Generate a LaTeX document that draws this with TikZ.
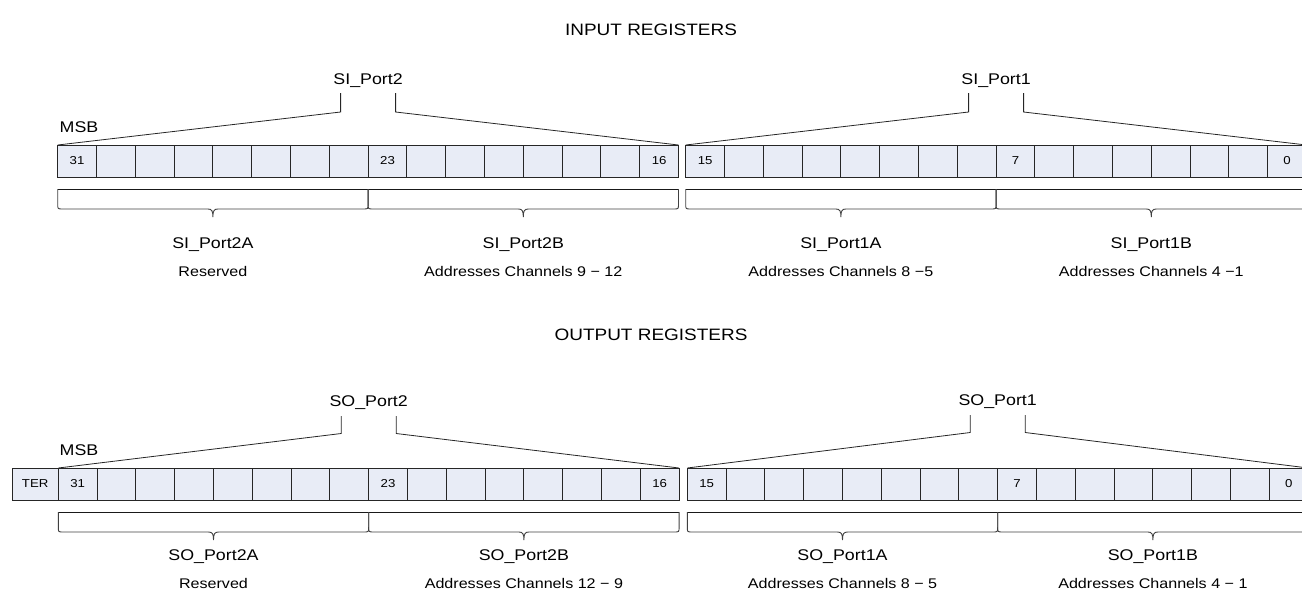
\documentclass[tikz,border=0pt]{standalone}
\usepackage{fontspec}
\setmainfont{Liberation Sans}[FakeStretch=1.15]
\usetikzlibrary{calc}
\definecolor{cellfill}{RGB}{232,236,246}
\newcommand\regbrace[3]{%
  \pgfmathsetmacro\bxm{(#1+#2)/2}%
  \pgfmathsetmacro\bb{#3+20}%
  \draw[brc] (#1,#3) -- (#1,\bb-5) .. controls (#1,\bb) .. (#1+5,\bb)
    -- (\bxm-5,\bb) .. controls (\bxm-1,\bb) and (\bxm,\bb+2) .. (\bxm,\bb+8)
    .. controls (\bxm,\bb+2) and (\bxm+1,\bb) .. (\bxm+5,\bb)
    -- (#2-5,\bb) .. controls (#2,\bb) .. (#2,\bb-5) -- (#2,#3);%
}
\tikzset{
  cell/.style={draw=black!85, fill=cellfill, line width=0.9pt, minimum width=38.8pt,
    minimum height=32pt, inner sep=0pt, outer sep=0pt},
  celltxt/.style={font=\fontsize{11.5}{13}\selectfont, inner sep=0pt},
  lbl/.style={font=\fontsize{15.5}{18}\selectfont, inner sep=0pt},
  sub/.style={font=\fontsize{14}{16}\selectfont, inner sep=0pt},
  ttl/.style={font=\fontsize{16.5}{20}\selectfont, inner sep=0pt},
  conn/.style={draw=black!85, line width=0.8pt},
  brc/.style={draw=black!75, line width=0.9pt},
  topln/.style={draw=black!90, line width=0.9pt}
}
\begin{document}
\begin{tikzpicture}[x=1pt,y=-1pt]
\useasboundingbox (0,0) rectangle (1302,595);
\clip (0,0) rectangle (1302,595);

% ---------------- INPUT ----------------
\node[ttl] (tin) at (651,30) {INPUT REGISTERS};
\foreach \n in {16,...,31}
  \node[cell] (i\n) at ({57.7+(31-\n)*38.8+19.4},161) {};
\foreach \n in {0,...,15}
  \node[cell] (i\n) at ({685.7+(15-\n)*38.8+19.4},161) {};
\foreach \n in {31,23,16,15,7,0}
  \node[celltxt] at (i\n) {\n};

\node[lbl] (imsb) at (79,127) {MSB};
\node[lbl] (sip2) at (368.1,81) {SI\_Port2};
\node[lbl] (sip1) at (996.1,81) {SI\_Port1};
\draw[conn] ($(sip2.center)+(-27.5,12)$) -- ++(0,19) -- (i31.north west);
\draw[conn] ($(sip2.center)+(27.5,12)$) -- ++(0,19) -- (i16.north east);
\draw[conn] ($(sip1.center)+(-27.5,12)$) -- ++(0,19) -- (i15.north west);
\draw[conn] ($(sip1.center)+(27.5,12)$) -- ++(0,19) -- (i0.north east);

\draw[topln] (57.7,189) -- (678.5,189);
\draw[topln] (685.7,189) -- (1306.5,189);
\regbrace{57.7}{368.1}{189}
\regbrace{368.1}{678.5}{189}
\regbrace{685.7}{996.1}{189}
\regbrace{996.1}{1306.5}{189}

\node[lbl] (si2a) at (212.9,245) {SI\_Port2A};
\node[sub] (si2ad) at (212.9,271) {Reserved};
\node[lbl] (si2b) at (523.3,245) {SI\_Port2B};
\node[sub] (si2bd) at (523.3,271) {Addresses Channels 9 − 12};
\node[lbl] (si1a) at (840.9,245) {SI\_Port1A};
\node[sub] (si1ad) at (840.9,271) {Addresses Channels 8 −5};
\node[lbl] (si1b) at (1151.3,245) {SI\_Port1B};
\node[sub] (si1bd) at (1151.3,271) {Addresses Channels 4 −1};

% ---------------- OUTPUT ----------------
\node[ttl] (tout) at (651,335) {OUTPUT REGISTERS};
\node[cell, minimum width=46.3pt] (oter) at (35.15,484) {};
\node[celltxt] at (oter) {TER};
\foreach \n in {16,...,31}
  \node[cell] (o\n) at ({58.3+(31-\n)*38.8+19.4},484) {};
\foreach \n in {0,...,15}
  \node[cell] (o\n) at ({687.3+(15-\n)*38.8+19.4},484) {};
\foreach \n in {31,23,16,15,7,0}
  \node[celltxt] at (o\n) {\n};

\node[lbl] (omsb) at (79,450) {MSB};
\node[lbl] (sop2) at (368.7,403) {SO\_Port2};
\node[lbl] (sop1) at (997.7,402) {SO\_Port1};
\draw[conn] ($(sop2.center)+(-27.5,13)$) -- ++(0,17.5) -- (o31.north west);
\draw[conn] ($(sop2.center)+(27.5,13)$) -- ++(0,17.5) -- (o16.north east);
\draw[conn] ($(sop1.center)+(-27.5,13)$) -- ++(0,17.5) -- (o15.north west);
\draw[conn] ($(sop1.center)+(27.5,13)$) -- ++(0,17.5) -- (o0.north east);

\draw[topln] (58.3,512) -- (679.1,512);
\draw[topln] (687.3,512) -- (1308.1,512);
\regbrace{58.3}{368.7}{512}
\regbrace{368.7}{679.1}{512}
\regbrace{687.3}{997.7}{512}
\regbrace{997.7}{1308.1}{512}

\node[lbl] (so2a) at (213.5,557) {SO\_Port2A};
\node[sub] (so2ad) at (213.5,583) {Reserved};
\node[lbl] (so2b) at (523.9,557) {SO\_Port2B};
\node[sub] (so2bd) at (523.9,583) {Addresses Channels 12 − 9};
\node[lbl] (so1a) at (842.5,557) {SO\_Port1A};
\node[sub] (so1ad) at (842.5,583) {Addresses Channels 8 − 5};
\node[lbl] (so1b) at (1152.9,557) {SO\_Port1B};
\node[sub] (so1bd) at (1152.9,583) {Addresses Channels 4 − 1};
\end{tikzpicture}
\end{document}
